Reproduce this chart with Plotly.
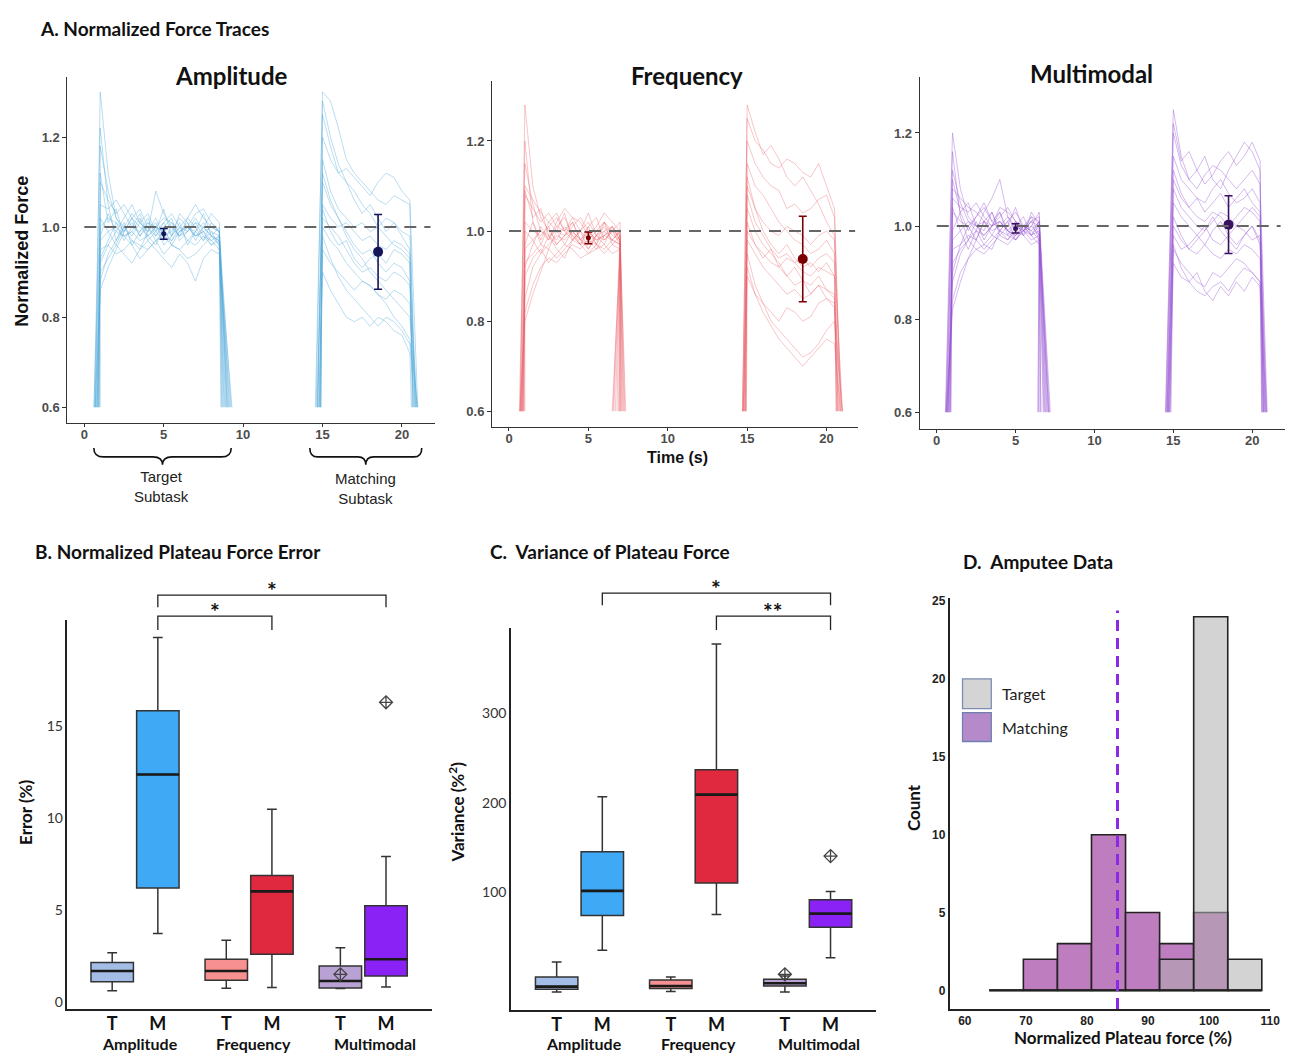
import plotly.graph_objects as go

W, H = 1295, 1055

# ---------------- Panel A data: normalized force traces ----------------
trace_floor = 0.6
err_t = [5, 18.5]

# Amplitude
amp_tgt_t = [1.0, 1.5, 2.0, 2.5, 3.0, 3.5, 4.0, 4.5, 5.0, 5.5, 6.0, 6.5, 7.0, 7.5, 8.0, 8.5]
amp_tgt_start = [0.7, 0.8, 0.6, 0.9, 1.0, 0.75, 0.65, 0.85, 0.95, 0.7, 0.62, 0.78, 0.88, 0.68, 0.92, 0.82]
amp_tgt_end = [8.9, 9.1, 8.7, 9.3, 8.8, 9.0, 8.6, 9.2, 8.95, 9.05, 8.75, 9.15, 8.85, 9.25, 8.65, 9.0]
amp_tgt_vals = [
    [1.30, 1.12, 1.02, 0.99, 1.01, 0.98, 1.00, 0.97, 0.99, 1.01, 0.98, 1.00, 0.99, 0.97, 0.99, 0.98],
    [0.88, 0.94, 0.97, 1.00, 0.98, 1.01, 0.99, 1.02, 0.98, 0.97, 1.00, 0.99, 1.01, 0.98, 0.96, 0.97],
    [1.05, 1.04, 1.06, 1.03, 1.00, 0.99, 1.01, 1.00, 0.98, 0.99, 1.02, 1.00, 0.98, 0.99, 1.00, 0.99],
    [0.95, 0.96, 0.94, 0.95, 0.97, 0.96, 0.95, 0.97, 0.94, 0.96, 0.95, 0.97, 0.96, 0.98, 0.97, 0.95],
    [1.18, 1.08, 1.02, 1.00, 1.03, 1.01, 0.99, 1.08, 1.03, 1.00, 0.98, 0.99, 1.01, 1.00, 0.98, 0.96],
    [0.92, 0.96, 0.99, 0.98, 0.96, 0.93, 0.95, 0.97, 0.98, 0.96, 0.95, 0.93, 0.94, 0.96, 0.98, 0.97],
    [1.00, 1.02, 1.01, 0.99, 1.02, 1.04, 1.00, 0.98, 1.01, 1.03, 1.00, 1.02, 1.05, 1.02, 1.00, 0.99],
    [0.90, 0.93, 0.96, 0.94, 0.92, 0.95, 0.97, 0.95, 0.93, 0.91, 0.94, 0.92, 0.88, 0.93, 0.95, 0.94],
    [1.10, 1.06, 1.03, 1.05, 1.02, 1.00, 0.98, 1.00, 1.02, 1.01, 0.99, 1.00, 1.03, 1.04, 1.01, 0.99],
    [0.97, 0.99, 1.00, 0.98, 0.99, 0.97, 0.98, 1.00, 0.99, 0.97, 0.99, 1.00, 0.98, 0.99, 0.97, 0.98],
    [1.22, 1.05, 0.97, 1.01, 0.96, 0.99, 1.02, 0.98, 1.00, 0.96, 0.99, 1.01, 0.97, 1.00, 0.98, 1.00],
    [0.93, 0.97, 1.01, 0.97, 1.00, 1.03, 0.98, 0.96, 1.00, 1.02, 0.97, 0.99, 1.02, 0.99, 0.96, 0.98],
    [1.02, 0.99, 0.96, 1.00, 0.97, 0.95, 0.99, 1.01, 0.96, 0.98, 1.01, 0.96, 0.99, 1.01, 0.99, 0.96],
    [0.86, 0.91, 0.95, 0.99, 1.02, 0.98, 1.01, 0.99, 0.97, 1.00, 0.98, 1.02, 1.00, 0.97, 1.01, 0.99],
    [1.12, 1.01, 1.04, 0.98, 0.99, 1.02, 0.97, 0.99, 1.04, 0.98, 1.00, 0.97, 0.99, 1.03, 0.98, 0.97],
    [0.98, 1.03, 0.99, 1.02, 1.05, 1.01, 1.03, 0.99, 1.01, 0.98, 1.03, 1.01, 0.98, 1.00, 1.03, 1.01],
]
amp_mtc_t = [15.0, 15.5, 16.0, 16.5, 17.0, 17.5, 18.0, 18.5, 19.0, 19.5, 20.0, 20.5]
amp_mtc_start = [14.6, 14.7, 14.8, 14.9, 14.85, 14.65, 14.75, 14.85, 14.9, 14.7, 14.55, 14.8, 14.68, 14.88]
amp_mtc_end = [20.8, 20.9, 21.0, 20.7, 20.95, 20.85, 20.6, 21.0, 20.75, 20.9, 20.65, 20.85, 20.95, 20.7]
amp_mtc_vals = [
    [1.30, 1.28, 1.22, 1.15, 1.12, 1.10, 1.08, 1.06, 1.05, 1.07, 1.06, 1.05],
    [1.10, 1.05, 1.02, 0.98, 0.95, 0.93, 0.90, 0.88, 0.86, 0.84, 0.82, 0.80],
    [1.00, 0.97, 0.95, 0.92, 0.90, 0.88, 0.87, 0.85, 0.83, 0.80, 0.78, 0.75],
    [1.20, 1.15, 1.12, 1.10, 1.08, 1.05, 1.03, 1.00, 0.98, 0.96, 0.95, 0.93],
    [0.95, 0.92, 0.90, 0.88, 0.86, 0.88, 0.87, 0.85, 0.84, 0.86, 0.85, 0.83],
    [1.05, 1.02, 1.00, 1.01, 0.99, 0.97, 0.98, 0.96, 0.95, 0.97, 0.96, 0.94],
    [0.90, 0.86, 0.83, 0.80, 0.79, 0.80, 0.78, 0.80, 0.79, 0.77, 0.76, 0.72],
    [1.25, 1.18, 1.12, 1.13, 1.11, 1.09, 1.07, 1.10, 1.12, 1.11, 1.08, 1.06],
    [1.02, 1.00, 0.98, 0.95, 0.92, 0.90, 0.91, 0.89, 0.88, 0.90, 0.89, 0.87],
    [1.15, 1.08, 1.04, 1.02, 1.00, 1.01, 0.99, 1.00, 1.02, 1.01, 0.99, 0.98],
    [1.28, 1.20, 1.14, 1.10, 1.06, 1.03, 1.05, 1.02, 0.99, 1.01, 0.98, 0.95],
    [0.98, 0.93, 0.89, 0.86, 0.84, 0.82, 0.80, 0.78, 0.80, 0.79, 0.77, 0.74],
    [1.12, 1.06, 1.02, 0.99, 0.96, 0.94, 0.95, 0.92, 0.90, 0.92, 0.91, 0.88],
    [1.04, 0.99, 0.96, 0.97, 0.93, 0.91, 0.93, 0.94, 0.92, 0.95, 0.94, 0.92],
]
amp_err_mean = [0.985, 0.945]
amp_err_sd = [0.012, 0.083]

# Frequency
frq_tgt_t = [1.0, 1.5, 2.0, 2.5, 3.0, 3.5, 4.0, 4.5, 5.0, 5.5, 6.0, 6.5, 7.0]
frq_tgt_start = [0.7, 0.8, 0.75, 0.9, 0.65, 0.85, 1.0, 0.7, 0.95, 0.8, 0.72, 0.88, 0.78, 0.68, 0.92, 0.82]
frq_tgt_end = [7.0, 6.7, 7.2, 6.5, 7.1, 6.9, 7.3, 6.6, 7.0, 7.15, 6.8, 7.25, 6.55, 7.05, 6.95, 7.35]
frq_tgt_vals = [
    [1.28, 1.10, 1.03, 1.00, 0.98, 1.01, 0.99, 0.97, 1.00, 0.98, 0.99, 1.01, 0.98],
    [0.85, 0.92, 0.95, 0.97, 0.99, 0.98, 1.00, 0.97, 0.98, 0.96, 0.99, 0.98, 0.97],
    [1.08, 1.05, 1.02, 1.04, 1.01, 1.00, 1.03, 1.02, 0.99, 1.01, 1.04, 1.02, 1.00],
    [0.93, 0.95, 0.97, 0.96, 0.94, 0.96, 0.98, 0.97, 0.95, 0.96, 0.97, 0.95, 0.96],
    [1.15, 1.06, 1.00, 0.98, 1.02, 1.05, 1.03, 1.00, 0.98, 1.00, 1.02, 0.99, 0.98],
    [0.90, 0.94, 0.96, 0.93, 0.95, 0.97, 0.96, 0.94, 0.95, 0.97, 0.96, 0.98, 0.97],
    [1.02, 1.00, 0.99, 1.01, 1.03, 1.00, 0.98, 1.00, 1.02, 0.99, 1.00, 1.01, 0.99],
    [0.82, 0.88, 0.92, 0.94, 0.93, 0.95, 0.97, 0.96, 0.98, 0.97, 0.95, 0.97, 0.96],
    [1.10, 1.07, 1.04, 1.02, 1.00, 0.99, 1.01, 1.03, 1.00, 0.98, 0.99, 1.00, 1.02],
    [0.96, 0.98, 1.00, 0.99, 0.97, 0.99, 1.00, 0.98, 0.97, 0.99, 0.98, 1.00, 0.99],
    [1.20, 1.02, 0.97, 1.01, 0.97, 0.99, 1.02, 0.98, 1.01, 0.97, 1.00, 0.98, 1.00],
    [0.92, 0.97, 1.01, 0.98, 1.01, 1.03, 0.99, 0.97, 1.01, 1.03, 0.98, 1.00, 0.97],
    [1.00, 0.98, 0.95, 0.99, 0.96, 0.94, 0.98, 1.00, 0.96, 0.99, 1.02, 0.97, 0.99],
    [0.80, 0.86, 0.91, 0.96, 1.00, 0.97, 1.00, 0.98, 0.96, 0.99, 0.97, 1.01, 0.98],
    [1.09, 1.03, 1.05, 0.99, 1.00, 1.04, 0.98, 1.00, 1.04, 0.99, 1.01, 0.98, 1.00],
    [0.97, 1.02, 0.98, 1.02, 1.04, 1.00, 1.02, 0.98, 1.00, 0.97, 1.02, 1.00, 0.98],
]
frq_mtc_t = [15.0, 15.5, 16.0, 16.5, 17.0, 17.5, 18.0, 18.5, 19.0, 19.5, 20.0, 20.5]
frq_mtc_start = [14.7, 14.8, 14.75, 14.9, 14.85, 14.7, 14.95, 14.8, 14.75, 14.9, 14.72, 14.86, 14.78, 14.92]
frq_mtc_end = [20.9, 20.7, 21.0, 20.6, 20.8, 20.95, 20.75, 20.85, 20.65, 21.0, 20.72, 20.88, 20.62, 20.98]
frq_mtc_vals = [
    [1.25, 1.20, 1.18, 1.15, 1.14, 1.16, 1.15, 1.13, 1.12, 1.15, 1.10, 1.05],
    [1.05, 1.00, 0.97, 0.95, 0.93, 0.90, 0.92, 0.89, 0.88, 0.90, 0.87, 0.85],
    [0.95, 0.88, 0.84, 0.80, 0.78, 0.76, 0.74, 0.72, 0.73, 0.75, 0.78, 0.80],
    [1.15, 1.10, 1.08, 1.05, 1.02, 1.00, 0.98, 0.97, 0.95, 0.96, 0.98, 0.95],
    [1.00, 0.97, 0.95, 0.93, 0.92, 0.94, 0.93, 0.91, 0.90, 0.92, 0.91, 0.90],
    [1.10, 1.05, 1.02, 1.00, 0.99, 1.01, 1.00, 0.99, 0.97, 0.99, 1.00, 0.98],
    [0.90, 0.86, 0.84, 0.82, 0.80, 0.83, 0.82, 0.80, 0.81, 0.84, 0.85, 0.83],
    [1.20, 1.15, 1.12, 1.10, 1.09, 1.05, 1.06, 1.04, 1.05, 1.07, 1.08, 1.03],
    [0.98, 0.95, 0.92, 0.90, 0.88, 0.86, 0.87, 0.85, 0.86, 0.88, 0.87, 0.86],
    [1.08, 1.02, 0.99, 0.96, 0.94, 0.95, 0.93, 0.94, 0.92, 0.94, 0.95, 0.93],
    [1.28, 1.22, 1.17, 1.19, 1.16, 1.12, 1.10, 1.12, 1.09, 1.06, 1.02, 0.99],
    [0.92, 0.86, 0.82, 0.79, 0.76, 0.74, 0.72, 0.70, 0.72, 0.74, 0.76, 0.75],
    [1.12, 1.05, 1.00, 0.97, 0.95, 0.97, 0.94, 0.92, 0.93, 0.91, 0.93, 0.90],
    [1.02, 0.97, 0.94, 0.96, 0.92, 0.90, 0.88, 0.89, 0.86, 0.88, 0.85, 0.84],
]
frq_err_mean = [0.985, 0.938]
frq_err_sd = [0.013, 0.095]

# Multimodal
mul_tgt_t = [1.0, 1.5, 2.0, 2.5, 3.0, 3.5, 4.0, 4.5, 5.0, 5.5, 6.0, 6.5]
mul_tgt_start = [0.55, 0.7, 0.6, 0.8, 0.65, 0.75, 0.9, 0.6, 0.85, 0.7, 0.58, 0.72, 0.82, 0.62, 0.88, 0.68]
mul_tgt_end = [6.9, 6.6, 7.1, 6.4, 7.0, 6.8, 7.2, 6.5, 6.95, 7.05, 6.75, 7.15, 6.45, 6.85, 7.1, 6.6]
mul_tgt_vals = [
    [1.20, 1.08, 1.02, 1.00, 1.01, 0.99, 1.00, 1.02, 0.99, 1.00, 0.98, 0.99],
    [0.88, 0.94, 0.97, 0.99, 0.98, 1.00, 1.01, 0.99, 0.98, 1.00, 0.99, 0.97],
    [1.06, 1.04, 1.03, 1.05, 1.02, 1.00, 1.04, 1.03, 1.01, 1.00, 1.02, 1.01],
    [0.95, 0.96, 0.98, 0.97, 0.95, 0.97, 0.99, 0.98, 0.97, 0.99, 0.98, 0.96],
    [1.12, 1.05, 1.01, 0.99, 1.03, 1.06, 1.10, 1.02, 1.00, 0.99, 1.01, 1.00],
    [0.92, 0.95, 0.97, 0.95, 0.96, 0.98, 0.97, 0.96, 0.98, 0.99, 0.97, 0.98],
    [1.03, 1.01, 1.00, 1.02, 1.04, 1.01, 0.99, 1.01, 1.03, 1.00, 1.01, 1.02],
    [0.84, 0.90, 0.93, 0.95, 0.94, 0.96, 0.98, 0.97, 0.99, 0.98, 0.96, 0.97],
    [1.08, 1.06, 1.04, 1.03, 1.01, 1.00, 1.02, 1.04, 1.01, 0.99, 1.00, 1.03],
    [0.97, 0.99, 1.01, 1.00, 0.98, 1.00, 1.01, 0.99, 0.98, 1.00, 0.99, 1.01],
    [1.16, 1.02, 0.97, 1.01, 0.97, 1.00, 1.03, 0.98, 1.01, 0.98, 1.00, 0.98],
    [0.90, 0.96, 1.00, 0.97, 1.01, 1.03, 0.99, 0.97, 1.00, 1.02, 0.98, 1.00],
    [1.04, 0.99, 0.95, 0.99, 0.96, 0.95, 0.99, 1.01, 0.97, 0.99, 1.02, 0.98],
    [0.82, 0.88, 0.93, 0.97, 1.01, 0.98, 1.01, 0.99, 0.97, 1.00, 0.98, 1.01],
    [1.10, 1.03, 1.05, 1.00, 0.99, 1.03, 0.98, 1.00, 1.04, 0.99, 1.01, 0.97],
    [0.99, 1.03, 0.99, 1.02, 1.05, 1.01, 1.03, 0.99, 1.01, 0.98, 1.03, 1.00],
]
mul_mtc_t = [15.0, 15.5, 16.0, 16.5, 17.0, 17.5, 18.0, 18.5, 19.0, 19.5, 20.0, 20.5]
mul_mtc_start = [14.5, 14.6, 14.7, 14.55, 14.8, 14.65, 14.75, 14.6, 14.85, 14.7, 14.52, 14.68, 14.78, 14.62]
mul_mtc_end = [20.7, 20.8, 20.6, 20.9, 20.75, 20.85, 20.65, 20.95, 20.7, 20.8, 20.62, 20.88, 20.72, 20.92]
mul_mtc_vals = [
    [1.25, 1.15, 1.10, 1.12, 1.15, 1.10, 1.08, 1.12, 1.15, 1.18, 1.16, 1.12],
    [1.05, 1.02, 1.00, 0.98, 0.96, 0.99, 1.01, 0.98, 0.96, 0.98, 1.00, 0.97],
    [0.95, 0.92, 0.90, 0.88, 0.87, 0.90, 0.89, 0.91, 0.93, 0.92, 0.90, 0.88],
    [1.15, 1.10, 1.08, 1.06, 1.05, 1.08, 1.10, 1.07, 1.05, 1.06, 1.08, 1.05],
    [1.00, 0.97, 0.95, 0.94, 0.96, 0.94, 0.93, 0.95, 0.94, 0.96, 0.95, 0.93],
    [1.10, 1.06, 1.04, 1.02, 1.01, 1.03, 1.02, 1.00, 1.02, 1.04, 1.03, 1.01],
    [0.92, 0.89, 0.88, 0.86, 0.85, 0.87, 0.88, 0.86, 0.89, 0.91, 0.90, 0.88],
    [1.20, 1.13, 1.10, 1.08, 1.11, 1.13, 1.12, 1.10, 1.08, 1.10, 1.12, 1.09],
    [0.98, 0.95, 0.96, 0.98, 1.00, 0.97, 0.96, 0.98, 1.00, 0.99, 0.97, 0.98],
    [1.08, 1.04, 1.02, 1.00, 0.99, 1.01, 1.03, 1.02, 1.00, 1.02, 1.04, 1.02],
    [1.22, 1.14, 1.16, 1.12, 1.09, 1.11, 1.14, 1.16, 1.13, 1.15, 1.18, 1.14],
    [0.96, 0.91, 0.88, 0.90, 0.86, 0.84, 0.87, 0.85, 0.88, 0.86, 0.89, 0.87],
    [1.12, 1.07, 1.04, 1.06, 1.03, 1.05, 1.07, 1.04, 1.06, 1.08, 1.05, 1.03],
    [1.02, 0.98, 0.95, 0.97, 0.99, 1.02, 0.99, 0.97, 0.95, 0.98, 1.00, 0.96],
]
mul_err_mean = [0.995, 1.003]
mul_err_sd = [0.010, 0.062]

force_target = 1.0
force_ticks = [0.6, 0.8, 1.0, 1.2]
time_ticks = [0, 5, 10, 15, 20]

# ---------------- Panels B & C: box plots ----------------
box_labels = ["T", "M", "T", "M", "T", "M"]
box_pos = [0, 1, 2.5, 3.5, 5, 6]
group_labels = ["Amplitude", "Frequency", "Multimodal"]
group_pos = [0.6, 3.1, 5.75]

err_low = [0.60, 3.73, 0.74, 0.78, 0.73, 0.81]
err_q1 = [1.10, 6.20, 1.18, 2.59, 0.76, 1.41]
err_med = [1.68, 12.39, 1.68, 6.02, 1.14, 2.32]
err_q3 = [2.14, 15.86, 2.32, 6.89, 1.95, 5.24]
err_high = [2.68, 19.85, 3.36, 10.49, 2.95, 7.92]
err_out_x = [5, 6]
err_out_y = [1.50, 16.32]
err_ticks = [0, 5, 10, 15]

var_low = [-12.5, 34.4, -12.0, 74.3, -12.5, 26.0]
var_q1 = [-9.5, 73.2, -8.7, 109.7, -5.8, 60.0]
var_med = [-6.5, 101.0, -5.8, 209.0, -2.8, 75.4]
var_q3 = [4.2, 145.0, 1.0, 237.0, 1.7, 91.0]
var_high = [21.0, 206.5, 4.2, 378.0, 5.4, 100.3]
var_out_x = [5, 6]
var_out_y = [7.3, 140.0]
var_ticks = [100, 200, 300]

# significance brackets: (from position, to position, label)
err_sig = [(1, 6, "*"), (1, 3.5, "*")]
var_sig = [(1, 6, "*"), (3.5, 6, "**")]

# ---------------- Panel D: amputee histogram ----------------
hist_edges = [64.0, 69.58, 75.16, 80.74, 86.32, 91.9, 97.48, 103.06, 108.64]
matching_counts = [0, 2, 3, 10, 5, 3, 5, 0]
target_counts = [0, 0, 0, 0, 0, 2, 24, 2]
matching_mean = 85.0
hist_xticks = [60, 70, 80, 90, 100, 110]
hist_yticks = [0, 5, 10, 15, 20, 25]

# ---------------- styling ----------------
box_fill = ["#a3bde6", "#3fa9f5", "#f79090", "#e0293f", "#b8a2d4", "#8b22f5"]
ARIAL = "Liberation Sans"
CAL = "Lato"


def px(x):
    return x / W


def py(y):
    return 1 - y / H


# axis geometry (domains in paper, ranges in data)
ax_geo = {
    1: dict(xd=[px(68), px(438)], yd=[py(421), py(73)], xr=[-1.06, 22.06], yr=[0.565, 1.334]),
    2: dict(xd=[px(496), px(865)], yd=[py(425), py(77)], xr=[-1.06, 22.0], yr=[0.565, 1.334]),
    3: dict(xd=[px(927), 1.0], yd=[py(427), py(73)], xr=[-1.07, 22.08], yr=[0.564, 1.321]),
    4: dict(xd=[px(68), px(435)], yd=[py(1010), py(619)], xr=[-0.98, 7.0], yr=[-0.40, 20.8]),
    5: dict(xd=[px(515), px(883)], yd=[py(1011), py(627)], xr=[-1.0, 7.0], yr=[-33.0, 396.0]),
    6: dict(xd=[px(957), px(1280)], yd=[py(1010), py(597)], xr=[57.5, 110.0], yr=[-1.21, 25.19]),
}


def xpaper(i, v):
    g = ax_geo[i]
    return g["xd"][0] + (v - g["xr"][0]) / (g["xr"][1] - g["xr"][0]) * (g["xd"][1] - g["xd"][0])


fig = go.Figure()


def ref(i):
    return ("x", "y") if i == 1 else (f"x{i}", f"y{i}")


# ---- Panel A traces ----
panels_A = [
    (1, [(amp_tgt_t, amp_tgt_start, amp_tgt_end, amp_tgt_vals), (amp_mtc_t, amp_mtc_start, amp_mtc_end, amp_mtc_vals)],
     "rgba(85,172,218,0.45)", amp_err_mean, amp_err_sd, "#14145a"),
    (2, [(frq_tgt_t, frq_tgt_start, frq_tgt_end, frq_tgt_vals), (frq_mtc_t, frq_mtc_start, frq_mtc_end, frq_mtc_vals)],
     "rgba(232,95,105,0.40)", frq_err_mean, frq_err_sd, "#7a0000"),
    (3, [(mul_tgt_t, mul_tgt_start, mul_tgt_end, mul_tgt_vals), (mul_mtc_t, mul_mtc_start, mul_mtc_end, mul_mtc_vals)],
     "rgba(150,85,210,0.45)", mul_err_mean, mul_err_sd, "#3a1060"),
]
for i, segs, col, em, esd, ecol in panels_A:
    xa, ya = ref(i)
    for tgrid, starts, ends, vals in segs:
        for s, e, v in zip(starts, ends, vals):
            fig.add_trace(go.Scatter(
                x=[s] + list(tgrid) + [e], y=[trace_floor] + list(v) + [trace_floor],
                mode="lines", line=dict(color=col, width=0.9), xaxis=xa, yaxis=ya,
                hoverinfo="skip"))
    fig.add_shape(type="line", xref=xa, yref=ya, x0=0, x1=21.8, y0=force_target, y1=force_target,
                  line=dict(color="#666666", width=2, dash="12px,8px"))
    for k in range(2):
        fig.add_trace(go.Scatter(
            x=[err_t[k]], y=[em[k]], mode="markers",
            marker=dict(color=ecol, size=5 if k == 0 else 10),
            error_y=dict(type="data", array=[esd[k]], color=ecol, thickness=1.6, width=4),
            xaxis=xa, yaxis=ya))

# ---- Panels B & C boxes ----
box_w = 0.93
for i, lo, q1, med, q3, hi, ox, oy in [
    (4, err_low, err_q1, err_med, err_q3, err_high, err_out_x, err_out_y),
    (5, var_low, var_q1, var_med, var_q3, var_high, var_out_x, var_out_y),
]:
    xa, ya = ref(i)
    for k in range(6):
        fig.add_trace(go.Box(
            x=[box_pos[k]], q1=[q1[k]], median=[med[k]], q3=[q3[k]],
            lowerfence=[lo[k]], upperfence=[hi[k]], width=box_w, whiskerwidth=0.23,
            fillcolor=box_fill[k], line=dict(color="#333333", width=1.5),
            boxpoints=False, xaxis=xa, yaxis=ya))
    mx, my = [], []
    for k in range(6):
        mx += [box_pos[k] - box_w / 2, box_pos[k] + box_w / 2, None]
        my += [med[k], med[k], None]
    fig.add_trace(go.Scatter(x=mx, y=my, mode="lines", line=dict(color="#1a1a1a", width=2.6),
                             xaxis=xa, yaxis=ya, hoverinfo="skip"))
    fig.add_trace(go.Scatter(x=ox, y=oy, mode="markers",
                             marker=dict(symbol="diamond-cross-open", size=10, color="#444444",
                                         line=dict(width=1.3)),
                             xaxis=xa, yaxis=ya))

# ---- Panel D histogram ----
centers = [(hist_edges[k] + hist_edges[k + 1]) / 2 for k in range(len(hist_edges) - 1)]
widths = [hist_edges[k + 1] - hist_edges[k] for k in range(len(hist_edges) - 1)]
fig.add_trace(go.Scatter(x=[hist_edges[0], hist_edges[-1]], y=[0, 0], mode="lines",
                         line=dict(color="#222222", width=2), xaxis="x6", yaxis="y6"))
fig.add_trace(go.Bar(x=centers, y=matching_counts, width=widths, marker=dict(
    color="#be7dbe", line=dict(color="#222222", width=1.6)), xaxis="x6", yaxis="y6", name="Matching"))
fig.add_trace(go.Bar(x=centers, y=target_counts, width=widths, marker=dict(
    color="rgba(175,175,175,0.55)", line=dict(color="#222222", width=1.6)), xaxis="x6", yaxis="y6", name="Target"))
fig.add_trace(go.Scatter(x=[matching_mean, matching_mean], y=[-1.2, 24.4], mode="lines",
                         line=dict(color="#8a2be2", width=3, dash="11px,7px"), xaxis="x6", yaxis="y6"))

# ---------------- axes ----------------
layout_axes = {}
for i, g in ax_geo.items():
    xn = "xaxis" if i == 1 else f"xaxis{i}"
    yn = "yaxis" if i == 1 else f"yaxis{i}"
    xa, ya = ref(i)
    layout_axes[xn] = dict(domain=g["xd"], range=g["xr"], anchor=ya, showgrid=False, zeroline=False,
                           showline=True, linecolor="#222222", linewidth=1.5)
    layout_axes[yn] = dict(domain=g["yd"], range=g["yr"], anchor=xa, showgrid=False, zeroline=False,
                           showline=True, linecolor="#222222", linewidth=1.5)

for i in (1, 2, 3):
    xn = "xaxis" if i == 1 else f"xaxis{i}"
    yn = "yaxis" if i == 1 else f"yaxis{i}"
    layout_axes[xn].update(tickvals=time_ticks, ticks="outside", ticklen=3, tickcolor="#333",
                           ticklabelstandoff=-4,
                           tickfont=dict(family=ARIAL, size=13, color="#4d4d4d", weight="bold"),
                           linecolor="#333333", linewidth=1.3)
    layout_axes[yn].update(tickvals=force_ticks, tickformat=".1f", ticks="outside", ticklen=4,
                           tickcolor="#333", linecolor="#333333", linewidth=1.3,
                           tickfont=dict(family=ARIAL, size=13, color="#4d4d4d", weight="bold"))

for i, tv in ((4, err_ticks), (5, var_ticks)):
    layout_axes[f"xaxis{i}"].update(tickvals=box_pos, ticktext=box_labels, ticks="",
                                    ticklabelstandoff=-3,
                                    tickfont=dict(family=CAL, size=18, color="#111", weight="bold"))
    layout_axes[f"yaxis{i}"].update(tickvals=tv, ticks="",
                                    tickfont=dict(family=CAL, size=14, color="#333"))

layout_axes["xaxis6"].update(tickvals=hist_xticks, ticks="",
                             tickfont=dict(family=ARIAL, size=12, color="#222", weight="bold"))
layout_axes["yaxis6"].update(tickvals=hist_yticks, ticks="",
                             tickfont=dict(family=ARIAL, size=12, color="#222", weight="bold"))

# ---------------- annotations & shapes ----------------
ann = []


def text(x, y, s, size, family=CAL, bold=True, xanchor="center", yanchor="middle", angle=0, color="#111"):
    ann.append(dict(x=x, y=y, xref="paper", yref="paper", text=s, showarrow=False,
                    xanchor=xanchor, yanchor=yanchor, textangle=angle,
                    font=dict(family=family, size=size, color=color, weight="bold" if bold else "normal")))


text(px(38), py(25), "A. Normalized Force Traces", 19, xanchor="left")
text(px(233), py(72), "Amplitude", 24)
text(px(692), py(72), "Frequency", 24)
text(px(1100), py(70), "Multimodal", 24)
text(px(22), py(248), "Normalized Force", 18, family=ARIAL, angle=-90)
text(px(683), py(456), "Time (s)", 16, family=ARIAL)
text(px(163), py(485), "Target<br>Subtask", 15, family=ARIAL, bold=False, color="#222")
text(px(368), py(487), "Matching<br>Subtask", 15, family=ARIAL, bold=False, color="#222")

text(px(33), py(550), "B. Normalized Plateau Force Error", 19, xanchor="left")
text(px(492), py(550), "C.  Variance of Plateau Force", 19, xanchor="left")
text(px(968), py(560), "D.  Amputee Data", 19, xanchor="left")
text(px(25), py(812), "Error (%)", 17, angle=-90)
text(px(460), py(812), "Variance (%<sup>2</sup>)", 17, angle=-90)
text(px(920), py(807), "Count", 17, angle=-90)
text(px(1132), py(1038), "Normalized Plateau force (%)", 17)

for i in (4, 5):
    for gl, gp in zip(group_labels, group_pos):
        text(xpaper(i, gp), py(1044), gl, 16)

# curly braces under the amplitude panel
brace_spans = [(0.6, 9.25), (14.2, 21.25)]
for a, b in brace_spans:
    x0, x1 = xpaper(1, a), xpaper(1, b)
    xm = (x0 + x1) / 2
    r = 0.07 * (x1 - x0)
    yt, ym, yb = py(446), py(455), py(463)
    path = (f"M {x0:.5f},{yt:.5f} Q {x0:.5f},{ym:.5f} {x0 + r:.5f},{ym:.5f} L {xm - r:.5f},{ym:.5f} "
            f"Q {xm:.5f},{ym:.5f} {xm:.5f},{yb:.5f} Q {xm:.5f},{ym:.5f} {xm + r:.5f},{ym:.5f} "
            f"L {x1 - r:.5f},{ym:.5f} Q {x1:.5f},{ym:.5f} {x1:.5f},{yt:.5f}")
    fig.add_shape(type="path", xref="paper", yref="paper", path=path,
                  line=dict(color="#111111", width=1.6))

# significance brackets (pixel rows of bracket top / leg end)
sig_rows = {4: [(594, 606), (615, 629)], 5: [(592, 604), (615, 629)]}
for i, sigs in ((4, err_sig), (5, var_sig)):
    for r_i, (a, b, lab) in enumerate(sigs):
        ytop, ybot = sig_rows[i][r_i]
        x0, x1 = xpaper(i, a), xpaper(i, b)
        path = (f"M {x0:.5f},{py(ybot):.5f} L {x0:.5f},{py(ytop):.5f} "
                f"L {x1:.5f},{py(ytop):.5f} L {x1:.5f},{py(ybot):.5f}")
        fig.add_shape(type="path", xref="paper", yref="paper", path=path,
                      line=dict(color="#222222", width=1.3))
        text((x0 + x1) / 2, py(ytop + 11), lab, 23, yanchor="bottom")

# legend for panel D
fig.add_shape(type="rect", xref="paper", yref="paper", x0=px(970), x1=px(999), y0=py(708), y1=py(678),
              fillcolor="#d4d4d4", line=dict(color="#7b8db3", width=1.3))
fig.add_shape(type="rect", xref="paper", yref="paper", x0=px(970), x1=px(999), y0=py(741), y1=py(712),
              fillcolor="#b58acb", line=dict(color="#6f7fb0", width=1.3))
text(px(1008), py(693), "Target", 16, bold=False, xanchor="left", color="#222")
text(px(1008), py(727), "Matching", 16, bold=False, xanchor="left", color="#222")

fig.update_layout(
    width=W, height=H, margin=dict(l=0, r=0, t=0, b=0),
    paper_bgcolor="white", plot_bgcolor="white", showlegend=False,
    barmode="overlay", boxmode="overlay",
    annotations=ann, **layout_axes,
)
fig.write_html("out.html", config={"displayModeBar": False},
               post_script="document.body.style.margin='0px';")
